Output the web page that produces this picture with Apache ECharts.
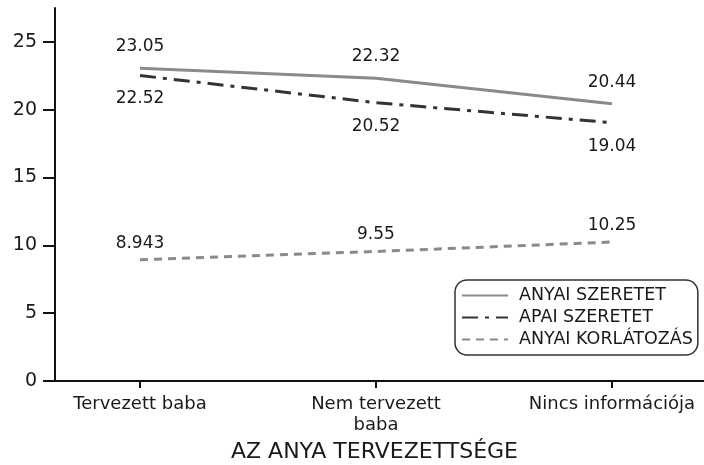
<!DOCTYPE html>
<html>
<head>
<meta charset="utf-8">
<title>Az anya tervezettsége</title>
<script src="https://cdn.jsdelivr.net/npm/echarts@6/dist/echarts.min.js"></script>
<style>
body { margin: 0; background: #fff; }
#chart { width: 704px; height: 465px; }
</style>
</head>
<body>
<div id="chart"></div>

<script>
var categories = ["Tervezett baba", "Nem tervezett\nbaba", "Nincs információja"];
var anyai_szeretet = [23.05, 22.32, 20.44];
var apai_szeretet = [22.52, 20.52, 19.04];
var anyai_korlatozas = [8.943, 9.55, 10.25];
var y_ticks = [0, 5, 10, 15, 20, 25];

var font = "DejaVu Sans";
var my_chart = null;

function pairs(values)
{
	var data = [];
	for (var i = 0; i < values.length; ++i)
		data.push([i, values[i]]);
	return data;
}

function make_series(name, values, color, dash, label_pos, label_dist)
{
	return {
		name: name,
		type: 'line',
		symbol: 'circle',
		symbolSize: 0,
		showSymbol: true,
		data: pairs(values),
		lineStyle: { color: color, width: 3, type: dash },
		itemStyle: { color: color },
		label: {
			show: true,
			position: label_pos,
			distance: label_dist,
			fontFamily: font,
			fontSize: 17,
			color: '#1a1a1a',
			formatter: function (p) { return String(p.value[1]); }
		}
	};
}

function init_chart()
{
	my_chart = echarts.init(document.getElementById("chart"));

	var x_idx = [];
	for (var i = 0; i < categories.length; ++i)
		x_idx.push(i);

	var option = {
		animation: false,
		grid: { left: 45, right: 0, top: 8, bottom: 84, containLabel: false, outerBoundsMode: 'none' },

		legend: {
			orient: 'vertical',
			left: 455,
			top: 280,
			itemWidth: 46,
			itemHeight: 14,
			itemGap: 3,
			padding: [6, 5, 6, 6],
			borderColor: '#333',
			borderWidth: 1.5,
			borderRadius: 12,
			itemStyle: { opacity: 0 },
			textStyle: { fontFamily: font, fontSize: 17.5, lineHeight: 19, color: '#1a1a1a', padding: [0, 0, 0, 6] },
			data: ['ANYAI SZERETET', 'APAI SZERETET', 'ANYAI KORLÁTOZÁS']
		},

		xAxis: [{
			type: 'value',
			min: -0.4025,
			max: 2.39,
			name: 'AZ ANYA TERVEZETTSÉGE',
			nameLocation: 'middle',
			nameGap: 56,
			nameTextStyle: { fontFamily: font, fontSize: 22, color: '#1a1a1a' },
			axisLine: { show: true, lineStyle: { color: '#111', width: 2 } },
			axisTick: { show: true, customValues: x_idx, length: 7, lineStyle: { color: '#111', width: 2 } },
			axisLabel: {
				customValues: x_idx,
				margin: 13,
				fontFamily: font,
				fontSize: 18,
				lineHeight: 21,
				color: '#1a1a1a',
				formatter: function (v) { return categories[v]; }
			},
			splitLine: { show: false }
		}],

		yAxis: [{
			type: 'value',
			min: 0,
			max: 27.5,
			offset: -10,
			axisLine: { show: true, onZero: false, lineStyle: { color: '#111', width: 2 } },
			axisTick: { show: true, customValues: y_ticks, length: 12, lineStyle: { color: '#111', width: 2 } },
			axisLabel: {
				customValues: y_ticks,
				margin: 18,
				fontFamily: font,
				fontSize: 19,
				color: '#1a1a1a'
			},
			splitLine: { show: false }
		}],

		series: [
			make_series('ANYAI SZERETET', anyai_szeretet, '#8a8a8a', 'solid', 'top', 13),
			make_series('APAI SZERETET', apai_szeretet, '#333333', [16, 7, 4, 7], 'bottom', 15),
			make_series('ANYAI KORLÁTOZÁS', anyai_korlatozas, '#8a8a8a', [8, 6], 'top', 8)
		]
	};

	my_chart.setOption(option);
}

init_chart();
</script>
</body>
</html>
